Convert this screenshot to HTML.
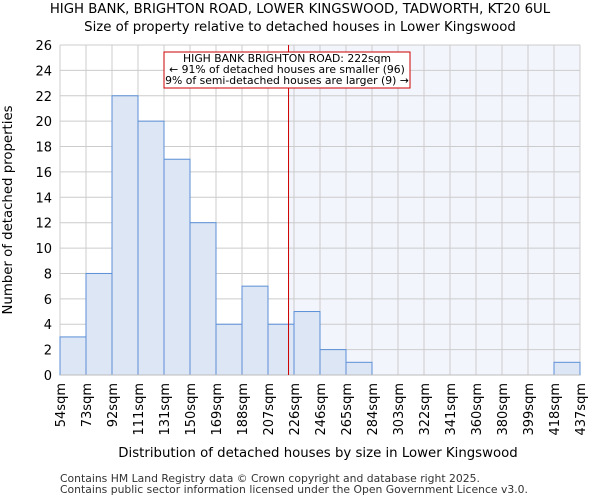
<!DOCTYPE html>
<html><head><meta charset="utf-8"><style>body{margin:0;background:#fff}svg{display:block;font-family:"DejaVu Sans","Liberation Sans",sans-serif}</style></head>
<body>
<svg id="c" width="600" height="500">
<text x="300" y="13" text-anchor="middle" font-size="13.3">HIGH BANK, BRIGHTON ROAD, LOWER KINGSWOOD, TADWORTH, KT20 6UL</text>
<text x="300" y="31" text-anchor="middle" font-size="13.3">Size of property relative to detached houses in Lower Kingswood</text>
<g id="plot"></g>
<text x="318" y="457" text-anchor="middle" font-size="13.3">Distribution of detached houses by size in Lower Kingswood</text>
<text transform="translate(12,210) rotate(-90)" text-anchor="middle" font-size="13.3">Number of detached properties</text>
<text x="60" y="482" font-size="10.8" fill="#333">Contains HM Land Registry data © Crown copyright and database right 2025.</text>
<text x="60" y="493" font-size="10.8" fill="#333">Contains public sector information licensed under the Open Government Licence v3.0.</text>
</svg>
<script>
const categories=["54sqm","73sqm","92sqm","111sqm","131sqm","150sqm","169sqm","188sqm","207sqm","226sqm","246sqm","265sqm","284sqm","303sqm","322sqm","341sqm","360sqm","380sqm","399sqm","418sqm","437sqm"];
const counts=[3,8,22,20,17,12,4,7,4,5,2,1,0,0,0,0,0,0,0,1];
const yTicks=[0,2,4,6,8,10,12,14,16,18,20,22,24,26];
const markerValue=222;
const binStarts=[54,73,92,111,131,150,169,188,207,226];
const L=60,R=580,T=45,B=375,yMax=26;
const NS="http://www.w3.org/2000/svg";
const g=document.getElementById('plot');
const n=counts.length;
const bw=(R-L)/n;
const xi=i=>L+i*bw;
const y=v=>B-(v/yMax)*(B-T);
function el(t,a){const e=document.createElementNS(NS,t);for(const k in a)e.setAttribute(k,a[k]);g.appendChild(e);return e;}
let mi=0;for(let i=0;i<binStarts.length-1;i++)if(markerValue>=binStarts[i])mi=i;
const mx=xi(mi)+bw*(markerValue-binStarts[mi])/(binStarts[mi+1]-binStarts[mi]);
const sh=el('rect',{x:mx,y:T,width:R-mx,height:B-T,fill:'#f3f5fc'});


for(const t of yTicks){
 const l=el('line',{x1:L,x2:R,y1:y(t),y2:y(t),stroke:'#cccccc','stroke-width':1});
 
 
 const tx=el('text',{x:L-8,y:y(t)+5,'text-anchor':'end','font-size':13});
 tx.textContent=t;
 
 
}
for(let i=0;i<=n;i++){
 const l=el('line',{x1:xi(i),x2:xi(i),y1:T,y2:B,stroke:'#cccccc','stroke-width':1});
 
 
}
counts.forEach((c,i)=>{
 if(c<=0)return;
 const r=el('rect',{x:xi(i),y:y(c),width:bw,height:B-y(c),fill:'#dce6f4',stroke:'#5b8fd6','stroke-width':1});
 
 
});
categories.forEach((c,i)=>{
 const t=el('text',{transform:`translate(${xi(i)+5},383) rotate(-90)`,'text-anchor':'end','font-size':13});
 t.textContent=c;
 
 
});
const ax=el('line',{x1:L,x2:R,y1:B,y2:B,stroke:'#bbbbbb'});


const ml=el('line',{x1:mx,x2:mx,y1:T,y2:B,stroke:'#cc0000','stroke-width':1});


const bx=el('rect',{x:164,y:52,width:246,height:36,fill:'#fff',stroke:'#cc0000','stroke-width':1});


["HIGH BANK BRIGHTON ROAD: 222sqm","← 91% of detached houses are smaller (96)","9% of semi-detached houses are larger (9) →"].forEach((s,k)=>{
 const t=el('text',{x:287,y:62+k*11,'text-anchor':'middle','font-size':10.8});
 t.textContent=s;
 
 
});
</script>
</body></html>
